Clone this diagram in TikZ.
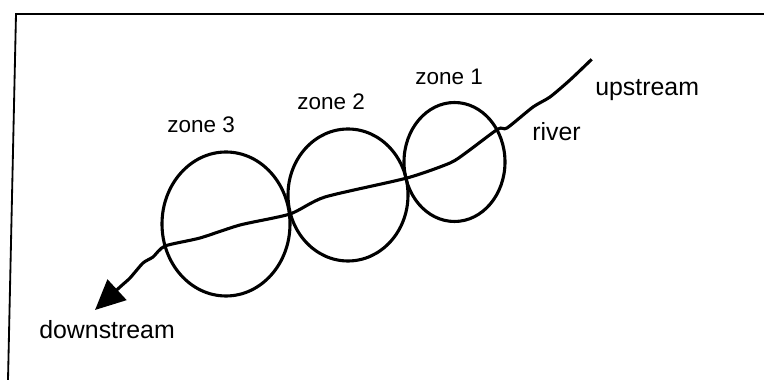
\documentclass[tikz,border=0pt]{standalone}
\usepackage{fontspec}
\setmainfont{Liberation Sans}
\usepackage{tikz}
\usetikzlibrary{arrows.meta,shapes.geometric}
\newcommand{\zonefont}{\fontsize{16}{18}\selectfont}
\newcommand{\riverfont}{\fontsize{17.7}{19}\selectfont}

\begin{document}
\begin{tikzpicture}[scale=0.25,
    zone/.style={draw,line width=2.2pt,ellipse,inner sep=0pt},
    lbl/.style={anchor=base west,inner sep=0pt}]
                \useasboundingbox (0,0) rectangle (76.4,38);
                \draw[line width=1.3pt] (76.4,36.6) -- (1.6,36.6) -- (0.8,0);
                \node[zone,minimum width=3.2cm,minimum height=3.6cm] (z3) at (22.6,15.6) {};
                \node[zone,minimum width=3.0cm,minimum height=3.3cm] (z2) at (34.8,18.5) {};
                \node[zone,minimum width=2.525cm,minimum height=2.975cm] (z1) at (45.45,21.8) {};
                \node[lbl] (l3) at (16.7,24.7) {\zonefont zone 3};
                \node[lbl] (l2) at (29.7,27.07) {\zonefont zone 2};
                \node[lbl] (l1) at (41.5,29.57) {\zonefont zone 1};
                \coordinate (up) at (59.17,32.07);
                \coordinate (down) at (9.5,7.0);
                \draw[line width=2.2pt,-{Triangle[length=0.75cm,width=0.69cm]}] (up)
                    plot[smooth,tension=0.4] coordinates {(59.17,32.07) (57.0,30.0) (55.0,28.3) (53.3,27.3)
                    (50.7,25.2) (49.8,25.1) (46.7,22.8) (45.0,21.7) (40.7,20.2) (32.5,18.3)
                    (29.0,16.6) (24.0,15.5) (20.0,14.2) (16.5,13.4) (15.3,12.3) (14.3,11.7)
                    (13.0,10.2) (12.0,9.3) (9.5,7.0)};
                \node[lbl] (ups) at (59.5,28.4) {\riverfont upstream};
                \node[lbl] (riv) at (53.2,23.93) {\riverfont river};
                \node[lbl] (dns) at (3.9,4.1) {\riverfont downstream};
\end{tikzpicture}
\end{document}
